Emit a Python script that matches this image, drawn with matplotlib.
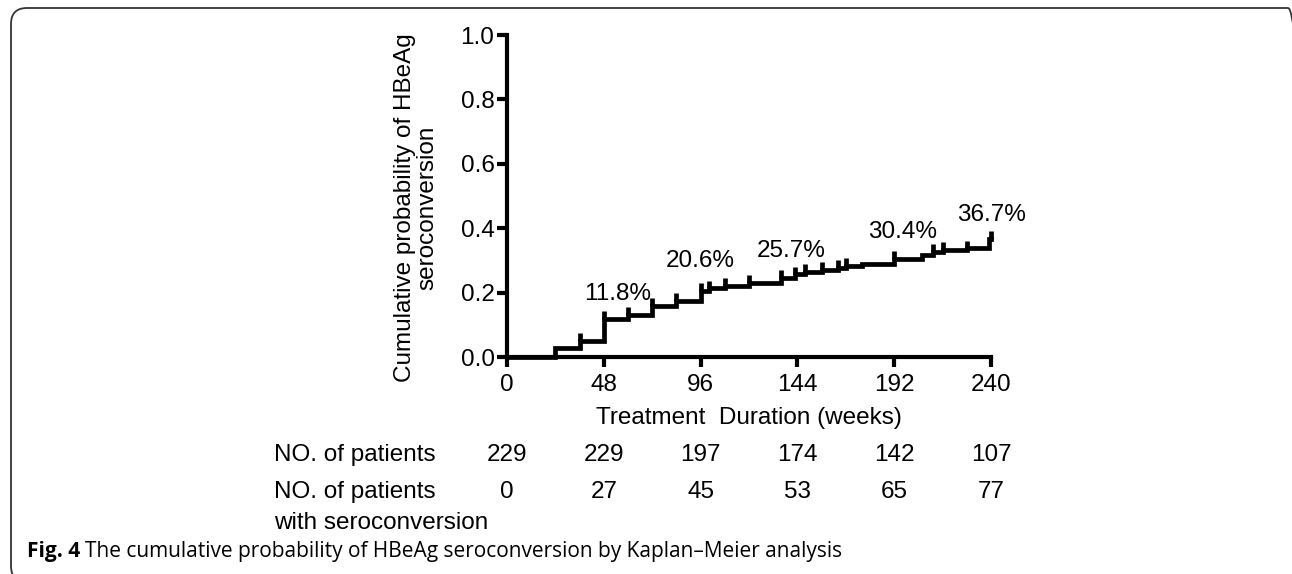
import numpy as np
import matplotlib
matplotlib.use("Agg")
import matplotlib.pyplot as plt
from matplotlib.patches import FancyBboxPatch
import matplotlib.transforms as mtransforms

plt.rcParams['font.family'] = ['Liberation Sans', 'DejaVu Sans']

# Kaplan-Meier steps (weeks, cumulative probability after the step)
step_t = [0, 24, 36, 48, 60, 72, 84, 96, 100, 108, 120, 136, 143, 148, 156, 164, 168,
          176, 192, 206, 211, 216, 228, 239, 240]
step_v = [0, 0.027, 0.05, 0.118, 0.13, 0.158, 0.174, 0.206, 0.213, 0.22, 0.231, 0.245,
          0.257, 0.265, 0.271, 0.277, 0.283, 0.29, 0.304, 0.318, 0.326, 0.332, 0.337,
          0.367, 0.367]
# censored observations (weeks)
censor_t = [36, 48, 60, 72, 84, 96, 100, 108, 120, 136, 143, 148, 156, 164, 168, 192,
            211, 216, 228, 240]

pct_labels = ['11.8%', '20.6%', '25.7%', '30.4%', '36.7%']
pct_x = [55, 96, 141, 196, 240]
pct_y = [0.197, 0.297, 0.328, 0.387, 0.44]

xticks = [0, 48, 96, 144, 192, 240]
n_patients = [229, 229, 197, 174, 142, 107]
n_sero = [0, 27, 45, 53, 65, 77]

W, H = 1292, 574
FS = 17.5
fig = plt.figure(figsize=(W / 100, H / 100), dpi=100)

def fx(px):
    return px / W

def fy(py):
    return 1 - py / H

# rounded frame (drawn in pixel units), right and bottom edges fall just outside
frame = FancyBboxPatch((11, H - 582), 1304 - 11, 582 - 8,
                       boxstyle="round,pad=0,rounding_size=16",
                       transform=mtransforms.IdentityTransform(), fill=False,
                       ec='#333333', lw=1.3, clip_on=False)
fig.patches.append(frame)

ax = fig.add_axes([fx(507), fy(357), fx(991) - fx(507), fy(35) - fy(357)])

ax.step(step_t, step_v, where='post', color='black', lw=3.4, clip_on=False,
        solid_joinstyle='miter')
cv = [step_v[max(i for i, t in enumerate(step_t) if t <= c)] for c in censor_t]
ax.vlines(censor_t, cv, np.array(cv) + 0.024, color='black', lw=3.4, clip_on=False)

for s, x, y in zip(pct_labels, pct_x, pct_y):
    ax.text(x, y, s, ha='center', va='center', fontsize=FS)

ax.set_xlim(0, 240)
ax.set_ylim(0, 1.0)
ax.set_xticks(xticks)
ax.set_yticks([0, 0.2, 0.4, 0.6, 0.8, 1.0])
ax.set_yticklabels(['0.0', '0.2', '0.4', '0.6', '0.8', '1.0'])
for sp in ['top', 'right']:
    ax.spines[sp].set_visible(False)
for sp in ['left', 'bottom']:
    ax.spines[sp].set_linewidth(3)
ax.tick_params(direction='out', length=7, width=3, labelsize=FS, pad=2)
ax.tick_params(axis='x', pad=5)
ax.set_xlabel('Treatment  Duration (weeks)', fontsize=FS, labelpad=8)

fig.text(fx(416), fy(208), 'Cumulative probability of HBeAg\nseroconversion',
         rotation=90, ha='center', va='center', multialignment='center',
         fontsize=FS, linespacing=1.05)

# numbers at risk table
tr = mtransforms.blended_transform_factory(ax.transData, fig.transFigure)
fig.text(fx(274), fy(455), 'NO. of patients', ha='left', va='center', fontsize=FS)
fig.text(fx(274), fy(492), 'NO. of patients', ha='left', va='center', fontsize=FS)
fig.text(fx(274), fy(523), 'with seroconversion', ha='left', va='center', fontsize=FS)
for x, a, b in zip(xticks, n_patients, n_sero):
    ax.text(x, fy(455), str(a), transform=tr, ha='center', va='center', fontsize=FS)
    ax.text(x, fy(492), str(b), transform=tr, ha='center', va='center', fontsize=FS)

# caption
CFS = 15
cap = fig.text(fx(27), fy(551), 'Fig. 4', ha='left', va='center', fontsize=CFS,
               family=['Open Sans', 'DejaVu Sans'], fontweight='bold')
fig.canvas.draw()
bb = cap.get_window_extent()
fig.text(bb.x1 / W + fx(5), fy(551),
         'The cumulative probability of HBeAg seroconversion by Kaplan\u2013Meier analysis',
         ha='left', va='center', fontsize=CFS, family=['Open Sans', 'DejaVu Sans'])

fig.savefig('out.png', dpi=100)
